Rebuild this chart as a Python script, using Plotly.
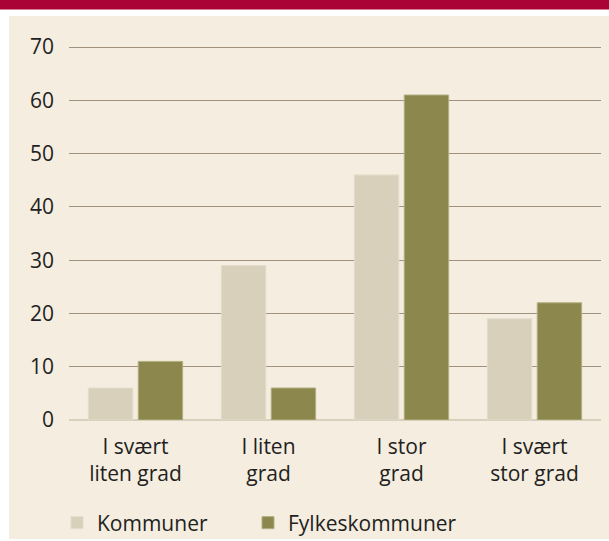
import plotly.graph_objects as go

categories = ["I svært<br>liten grad", "I liten<br>grad", "I stor<br>grad", "I svært<br>stor grad"]
kommuner = [6, 29, 46, 19]
fylkeskommuner = [11, 6, 61, 22]
series_names = ["Kommuner", "Fylkeskommuner"]
y_ticks = [0, 10, 20, 30, 40, 50, 60, 70]

FONT = "Open Sans"
TXT = "#231f20"

W, H = 609, 541
L, R, T, B = 69, 8, 46, 121
pw, ph = W - L - R, H - T - B

def px_x(x):
    return (x - L) / pw

def px_y(y):
    return (H - B - y) / ph

fig = go.Figure()
fig.add_trace(go.Bar(x=categories, y=kommuner, name=series_names[0], legend="legend",
                     marker=dict(color="#d8d0bb", line=dict(color="#e4ddcc", width=1))))
fig.add_trace(go.Bar(x=categories, y=fylkeskommuner, name=series_names[1], legend="legend2",
                     marker=dict(color="#8c874c", line=dict(color="#b3ae80", width=1))))

shapes = [
    dict(type="rect", xref="paper", yref="paper", layer="below",
         x0=px_x(-5), x1=px_x(W + 5), y0=px_y(-5), y1=px_y(9.5),
         fillcolor="#aa0335", line=dict(width=0)),
    dict(type="rect", xref="paper", yref="paper", layer="below",
         x0=px_x(9), x1=px_x(W + 5), y0=px_y(16), y1=px_y(539),
         fillcolor="#f4ede0", line=dict(width=0)),
]

legend_common = dict(orientation="h", yanchor="middle", xanchor="left",
                     font=dict(family=FONT, size=21, color=TXT),
                     bgcolor="rgba(0,0,0,0)")

fig.update_layout(
    width=W, height=H,
    margin=dict(l=L, r=R, t=T, b=B, autoexpand=False),
    paper_bgcolor="white",
    plot_bgcolor="rgba(0,0,0,0)",
    font=dict(family=FONT, size=21, color=TXT),
    barmode="group",
    bargap=0.25,
    bargroupgap=0.11,
    shapes=shapes,
    showlegend=True,
    legend=dict(x=px_x(57), y=px_y(523), **legend_common),
    legend2=dict(x=px_x(248), y=px_y(523), **legend_common),
    xaxis=dict(showgrid=False, showline=False, ticks="", tickfont=dict(size=21, color=TXT),
               ticklabelstandoff=12, automargin=False),
    yaxis=dict(range=[0, 70.2], tickvals=y_ticks, showgrid=True, gridcolor="#a0927f",
               gridwidth=1.3, zeroline=True, zerolinecolor="#d9d1bd", zerolinewidth=2,
               showline=False, ticks="", tickfont=dict(size=21, color=TXT),
               ticklabelstandoff=14, automargin=False),
)

fig.write_html(
    "out.html",
    config={"displayModeBar": False},
    post_script="document.body.style.margin='0';document.body.style.padding='0';document.body.style.overflow='hidden';",
)
